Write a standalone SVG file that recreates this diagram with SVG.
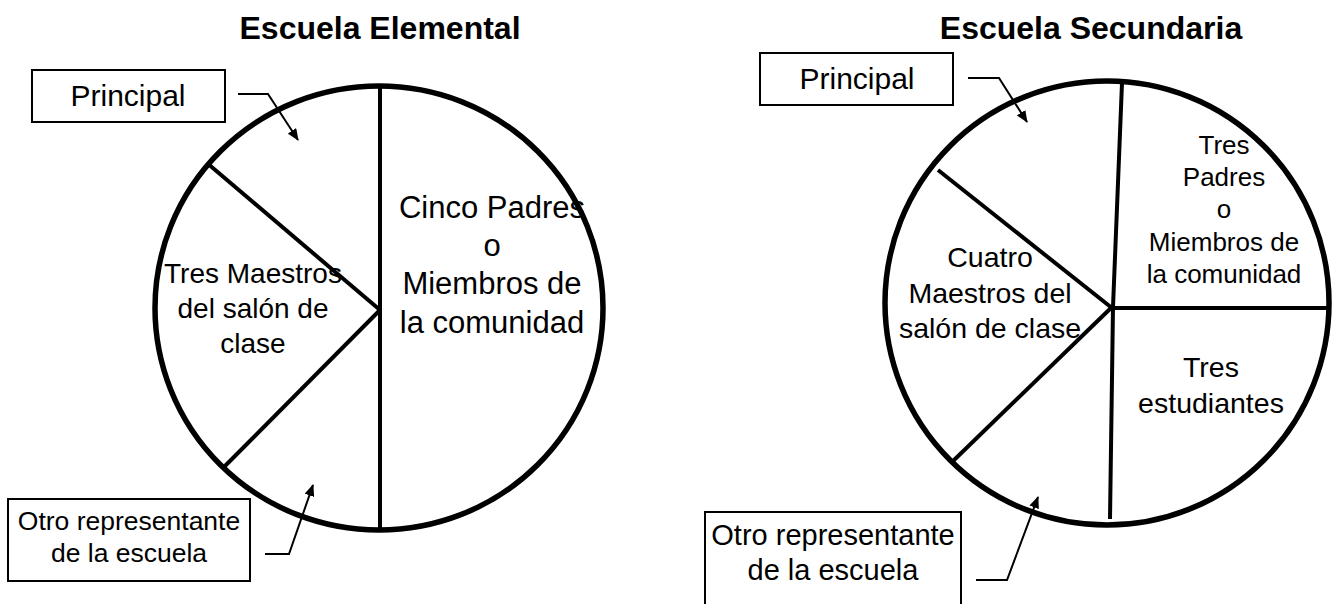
<svg xmlns="http://www.w3.org/2000/svg" width="1332" height="604" viewBox="0 0 1332 604">
<style>
  .bg{fill:#fff}
  .pie{fill:none;stroke:#000;stroke-width:5.5}
  .div{stroke:#000;stroke-width:4;fill:none;stroke-linecap:butt}
  .box{fill:#fff;stroke:#000;stroke-width:2}
  .arr{fill:none;stroke:#000;stroke-width:2}
  .t{font-family:"Liberation Sans",Arial,sans-serif;fill:#000;text-anchor:middle}
  .title{font-weight:bold;font-size:32px}
</style>
<defs>
  <marker id="ah" markerWidth="12" markerHeight="10" refX="11" refY="5" orient="auto" markerUnits="userSpaceOnUse">
    <path d="M0,0 L12,5 L0,10 z" fill="#000"/>
  </marker>
</defs>
<rect class="bg" x="0" y="0" width="1332" height="604"/>

<g id="title-elemental"><text class="t title" x="380" y="39">Escuela Elemental</text></g>
<g id="title-secundaria"><text class="t title" x="1091" y="39">Escuela Secundaria</text></g>

<g id="pie-elemental">
  <ellipse class="pie" cx="379" cy="308" rx="224" ry="222"/>
  <line class="div" x1="380" y1="86" x2="380" y2="530"/>
  <line class="div" x1="207" y1="163" x2="380" y2="310"/>
  <line class="div" x1="380" y1="310" x2="223" y2="468"/>
</g>
<g id="slice-e-padres">
  <text class="t" font-size="31" x="492" y="218">Cinco Padres</text>
  <text class="t" font-size="31" x="492" y="256">o</text>
  <text class="t" font-size="31" x="492" y="294">Miembros de</text>
  <text class="t" font-size="31" x="492" y="333">la comunidad</text>
</g>
<g id="slice-e-maestros">
  <text class="t" font-size="28" x="253" y="283">Tres Maestros</text>
  <text class="t" font-size="28" x="253" y="318">del salón de</text>
  <text class="t" font-size="28" x="253" y="353">clase</text>
</g>
<g id="label-e-principal">
  <rect class="box" x="32" y="70" width="193" height="52"/>
  <text class="t" font-size="30" x="128" y="106">Principal</text>
</g>
<g id="label-e-otro">
  <rect class="box" x="8" y="499" width="242" height="82"/>
  <text class="t" font-size="26.5" x="129" y="530">Otro representante</text>
  <text class="t" font-size="26.5" x="129" y="562">de la escuela</text>
</g>

<g id="pie-secundaria">
  <ellipse class="pie" cx="1107" cy="303" rx="222" ry="222"/>
  <polyline class="div" points="1122,83 1113,307 1110,519"/>
  <line class="div" x1="1111" y1="308" x2="1329" y2="308"/>
  <line class="div" x1="938" y1="170" x2="1112" y2="308"/>
  <line class="div" x1="1112" y1="307" x2="951" y2="463"/>
</g>
<g id="slice-s-padres">
  <text class="t" font-size="26" x="1224" y="154">Tres</text>
  <text class="t" font-size="26" x="1224" y="186">Padres</text>
  <text class="t" font-size="26" x="1224" y="218">o</text>
  <text class="t" font-size="26" x="1224" y="251">Miembros de</text>
  <text class="t" font-size="26" x="1224" y="283">la comunidad</text>
</g>
<g id="slice-s-maestros">
  <text class="t" font-size="28.5" x="990" y="267">Cuatro</text>
  <text class="t" font-size="28.5" x="990" y="303">Maestros del</text>
  <text class="t" font-size="28.5" x="990" y="338">salón de clase</text>
</g>
<g id="slice-s-estudiantes">
  <text class="t" font-size="28.5" x="1211" y="377">Tres</text>
  <text class="t" font-size="28.5" x="1211" y="413">estudiantes</text>
</g>
<g id="label-s-principal">
  <rect class="box" x="760" y="53" width="193" height="52"/>
  <text class="t" font-size="30" x="857" y="89">Principal</text>
</g>
<g id="label-s-otro">
  <rect class="box" x="705" y="512" width="256" height="112"/>
  <text class="t" font-size="29" x="833" y="545">Otro representante</text>
  <text class="t" font-size="29" x="833" y="580">de la escuela</text>
</g>

<g id="connectors">
  <polyline class="arr" points="238,94 268,94 298,140" marker-end="url(#ah)"/>
  <polyline class="arr" points="265,554 289,554 313,485" marker-end="url(#ah)"/>
  <polyline class="arr" points="968,78 999,78 1027,122" marker-end="url(#ah)"/>
  <polyline class="arr" points="976,580 1007,580 1038,497" marker-end="url(#ah)"/>
</g>
</svg>
